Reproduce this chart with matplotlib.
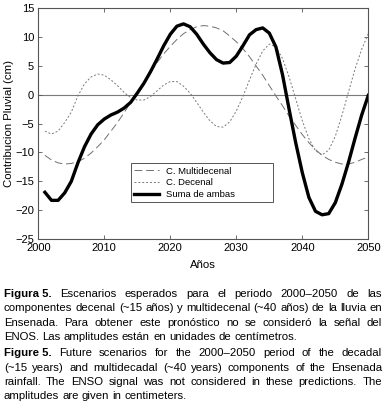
import matplotlib
matplotlib.use("Agg")
import matplotlib.pyplot as plt
from matplotlib.patches import Rectangle

plt.rcParams['font.family'] = ['Liberation Sans', 'DejaVu Sans']

years = list(range(2001, 2051))
multidecenal = [-10.5, -11.3, -11.8, -12.0, -11.9, -11.6, -11.0, -10.1, -9.0, -7.8,
                -6.3, -4.8, -3.1, -1.3, 0.4, 2.2, 3.9, 5.6, 7.1, 8.4,
                9.6, 10.6, 11.3, 11.8, 12.0, 11.9, 11.6, 11.1, 10.2, 9.2,
                8.0, 6.6, 5.0, 3.4, 1.6, -0.2, -1.9, -3.7, -5.3, -6.9,
                -8.3, -9.5, -10.5, -11.2, -11.7, -12.0, -12.0, -11.7, -11.2, -10.8]
decenal = [-6.3, -6.8, -6.3, -4.8, -3.0, -0.2, 1.9, 3.1, 3.6, 3.4,
           2.6, 1.6, 0.4, -0.5, -0.9, -0.9, -0.3, 0.7, 1.7, 2.3,
           2.3, 1.5, 0.3, -1.3, -3.0, -4.5, -5.5, -5.6, -4.7, -2.8,
           -0.3, 2.6, 5.3, 7.6, 8.8, 8.3, 6.3, 3.1, -0.7, -4.5,
           -7.6, -9.7, -10.4, -9.6, -7.2, -3.6, 0.5, 4.5, 7.9, 10.6]
suma = [-16.9, -18.3, -18.3, -17.0, -15.0, -11.8, -9.0, -6.8, -5.2, -4.2,
        -3.5, -3.0, -2.3, -1.3, 0.3, 2.0, 4.0, 6.2, 8.5, 10.5,
        11.9, 12.3, 11.8, 10.5, 8.8, 7.3, 6.1, 5.5, 5.6, 6.7,
        8.5, 10.4, 11.3, 11.6, 10.7, 8.3, 3.5, -2.5, -8.3, -13.5,
        -17.8, -20.2, -20.8, -20.6, -18.7, -15.5, -11.7, -7.5, -3.5, -0.1]

xticks = [2000, 2010, 2020, 2030, 2040, 2050]
yticks = [-25, -20, -15, -10, -5, 0, 5, 10, 15]
legend_labels = ["C. Multidecenal", "C. Decenal", "Suma de ambas"]

caption_lines = [
    ("Figura 5.", "Escenarios esperados para el periodo 2000\u20132050 de las", True),
    ("", "componentes decenal (~15 a\u00f1os) y multidecenal (~40 a\u00f1os) de la lluvia en", True),
    ("", "Ensenada. Para obtener este pron\u00f3stico no se consider\u00f3 la se\u00f1al del", True),
    ("", "ENOS. Las amplitudes est\u00e1n en unidades de cent\u00edmetros.", False),
    ("Figure 5.", "Future scenarios for the 2000\u20132050 period of the decadal", True),
    ("", "(~15 years) and multidecadal (~40 years) components of the Ensenada", True),
    ("", "rainfall. The ENSO signal was not considered in these predictions. The", True),
    ("", "amplitudes are given in centimeters.", False),
]

W, H = 386, 413
ax_l, ax_r, ax_t, ax_b = 38.3, 368.3, 8.3, 239.0
fig = plt.figure(figsize=(W / 100, H / 100), dpi=100)
ax = fig.add_axes([ax_l / W, 1 - ax_b / H, (ax_r - ax_l) / W, (ax_b - ax_t) / H])

ax.axhline(0, color='#7a7a7a', lw=0.8, zorder=1)
l1, = ax.plot(years, multidecenal, color='#707070', lw=0.7, dashes=(8, 4), zorder=2)
l2, = ax.plot(years, decenal, color='#787878', lw=0.7, dashes=(2, 2), zorder=2)
l3, = ax.plot(years, suma, color='black', lw=2.4, zorder=3)

ax.set_xlim(2000, 2050)
ax.set_ylim(-25, 15)
ax.set_xticks(xticks)
ax.set_yticks(yticks)
ax.tick_params(direction='in', top=True, right=True, labelsize=8, length=3, width=0.6,
               color='#555555', pad=3)
for s in ax.spines.values():
    s.set_color('#555555')
    s.set_linewidth(0.8)
ax.set_xlabel("A\u00f1os", fontsize=8.2, labelpad=5)
ax.set_ylabel("Contribucion Pluvial (cm)", fontsize=8.2, labelpad=1)

# legend box (pixel extents converted to axes fraction)
bx0, bx1, by0, by1 = 131.0, 273.3, 163.3, 202.3
fx = lambda px: (px - ax_l) / (ax_r - ax_l)
fy = lambda py: (ax_b - py) / (ax_b - ax_t)
ax.add_patch(Rectangle((fx(bx0), fy(by1)), fx(bx1) - fx(bx0), fy(by0) - fy(by1),
                       transform=ax.transAxes, facecolor='white', edgecolor='#555555',
                       lw=0.7, zorder=4))
leg = ax.legend([l1, l2, l3], legend_labels, loc='upper left',
                bbox_to_anchor=(fx(bx0), fy(by0)), fontsize=6.8, frameon=False,
                handlelength=2.6, handletextpad=0.8, labelspacing=0.3,
                borderpad=0.35, borderaxespad=0)
leg.set_zorder(5)

# caption with justified lines
fig.canvas.draw()
renderer = fig.canvas.get_renderer()
left_px, right_px = 4, 382
tops = [292.7, 307.3, 321.7, 336.3, 352.3, 366.7, 381.0, 395.3]

def width_of(s, size, weight='normal'):
    t = fig.text(0, 0, s, fontsize=size, fontweight=weight)
    w = t.get_window_extent(renderer).width
    t.remove()
    return w

ref = 10.0
widest = 0
for bold, rest, justify in caption_lines:
    s = (bold + ' ' + rest) if bold else rest
    widest = max(widest, width_of(s, ref))
fs = min(8.6, ref * (right_px - left_px - 2) / widest)

for (bold, rest, justify), yc in zip(caption_lines, tops):
    words = []
    if bold:
        words.append((bold, 'bold'))
    for w in rest.split(' '):
        words.append((w, 'normal'))
    widths = [width_of(w, fs, wt) for w, wt in words]
    space = width_of('a a', fs) - width_of('aa', fs)
    total = sum(widths)
    if justify and len(words) > 1:
        gap = (right_px - left_px - total) / (len(words) - 1)
    else:
        gap = space
    x = left_px
    for (w, wt), wd in zip(words, widths):
        fig.text(x / W, 1 - yc / H, w, fontsize=fs, fontweight=wt,
                 ha='left', va='center_baseline')
        x += wd + gap

fig.savefig("out.png", dpi=100)
